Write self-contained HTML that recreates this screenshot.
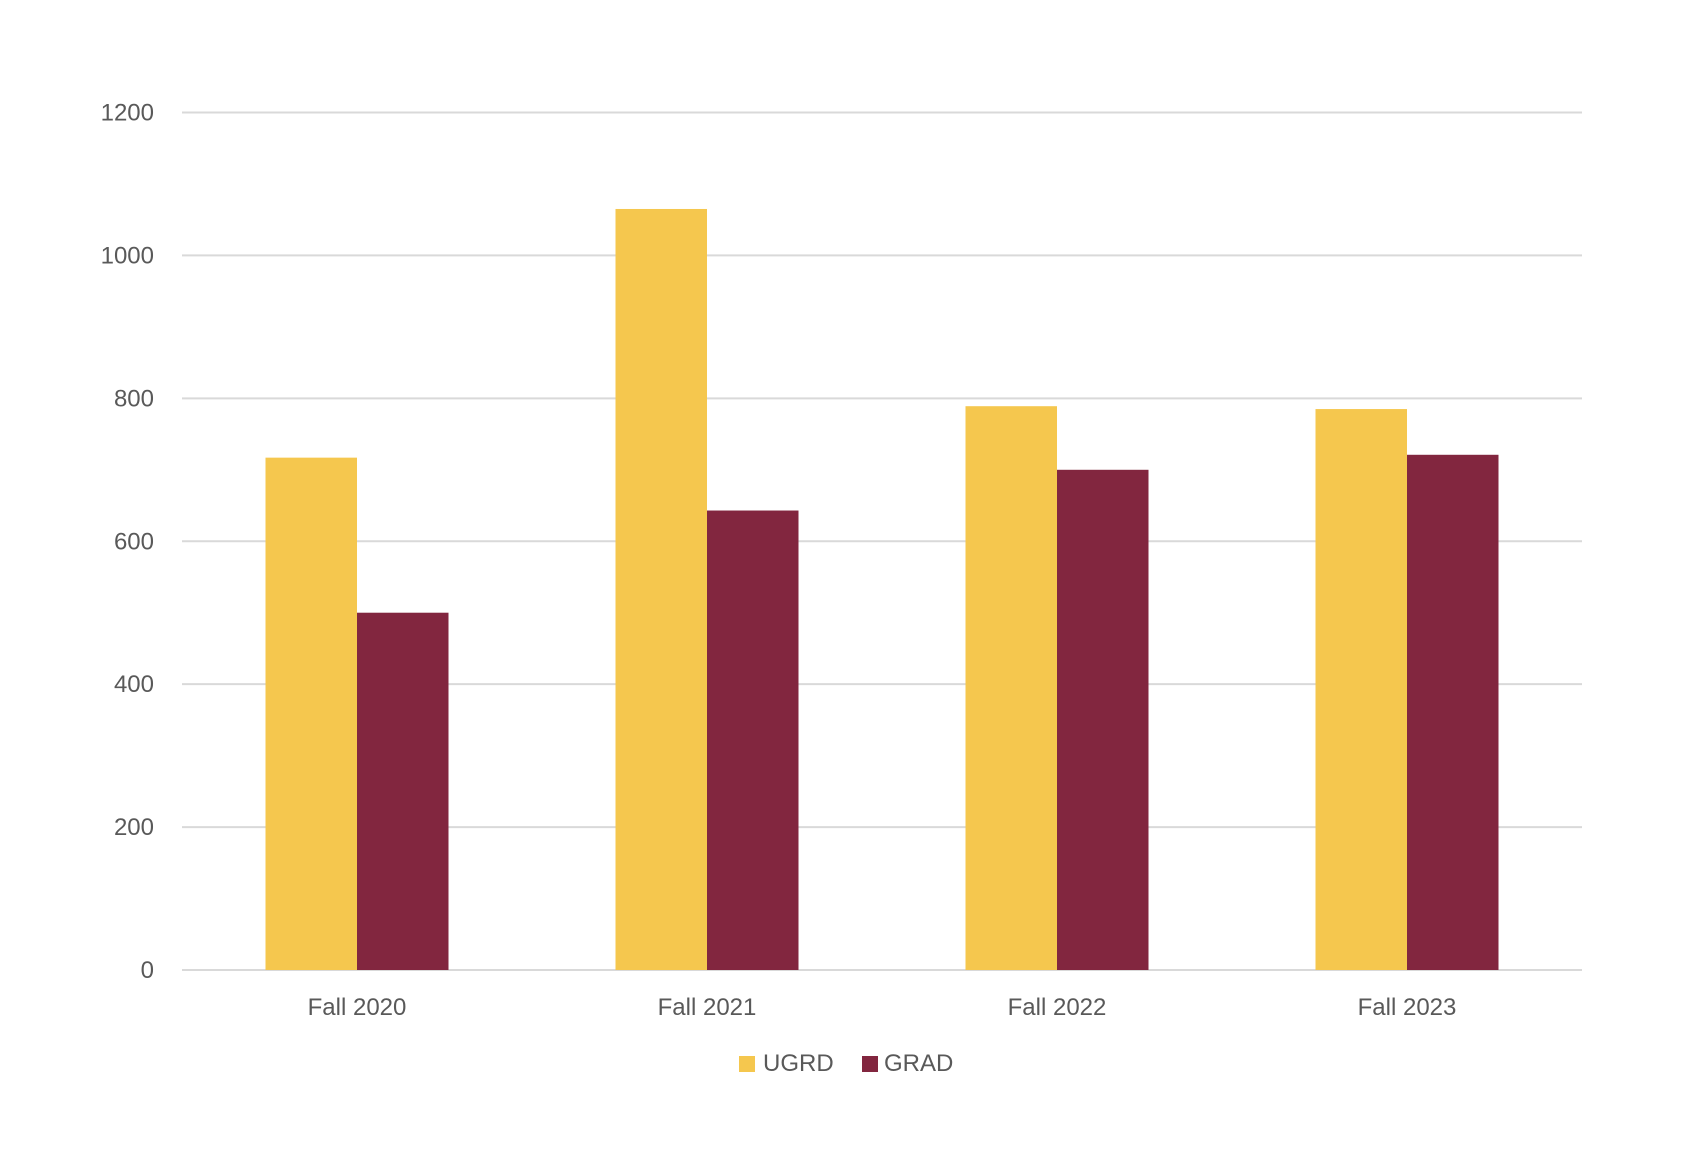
<!DOCTYPE html>
<html><head><meta charset="utf-8"><style>
body{margin:0;background:#fff}
svg text{font-family:"Liberation Sans",sans-serif;fill:#595959}
</style></head><body>
<svg width="1696" height="1166" viewBox="0 0 1696 1166">
<g id="grid"></g>
<g id="yt"></g>
<g id="bars"></g>
<g id="xt"></g>
<g>
<rect x="739" y="1056" width="16" height="16" fill="#F5C74E"/>
<text x="763" y="1071" font-size="24">UGRD</text>
<rect x="862" y="1056" width="16" height="16" fill="#82263F"/>
<text x="884" y="1071" font-size="24">GRAD</text>
</g>
</svg>
<script>
const categories=["Fall 2020","Fall 2021","Fall 2022","Fall 2023"];
const ugrd=[717,1065,789,785];
const grad=[500,643,700,721];
const yTicks=[0,200,400,600,800,1000,1200];
const L=182,R=1582,T=112.5,B=970,YMAX=1200;
const NS="http://www.w3.org/2000/svg";
const y=v=>B-(v/YMAX)*(B-T);
const cw=(R-L)/categories.length, bw=91.5;
function mk(tag,attrs,parent){const e=document.createElementNS(NS,tag);for(const k in attrs)e.setAttribute(k,attrs[k]);document.getElementById(parent).appendChild(e);return e;}
yTicks.forEach(t=>{
 const l=mk('line',{x1:L,x2:R,y1:y(t),y2:y(t),stroke:'#D9D9D9','stroke-width':2},'grid');
 
 
 const tx=mk('text',{x:154,y:y(t)+8,'font-size':24,'text-anchor':'end'},'yt');
 tx.textContent=t;
 
 
});
categories.forEach((c,i)=>{
 const cx=L+cw*(i+0.5);
 const b1=mk('rect',{x:cx-bw,y:y(ugrd[i]),width:bw,height:B-y(ugrd[i]),fill:'#F5C74E'},'bars');
 
 
 const b2=mk('rect',{x:cx,y:y(grad[i]),width:bw,height:B-y(grad[i]),fill:'#82263F'},'bars');
 
 
 const tx=mk('text',{x:cx,y:1015,'font-size':24,'text-anchor':'middle'},'xt');
 tx.textContent=c;
 
 
});
</script>
</body></html>
